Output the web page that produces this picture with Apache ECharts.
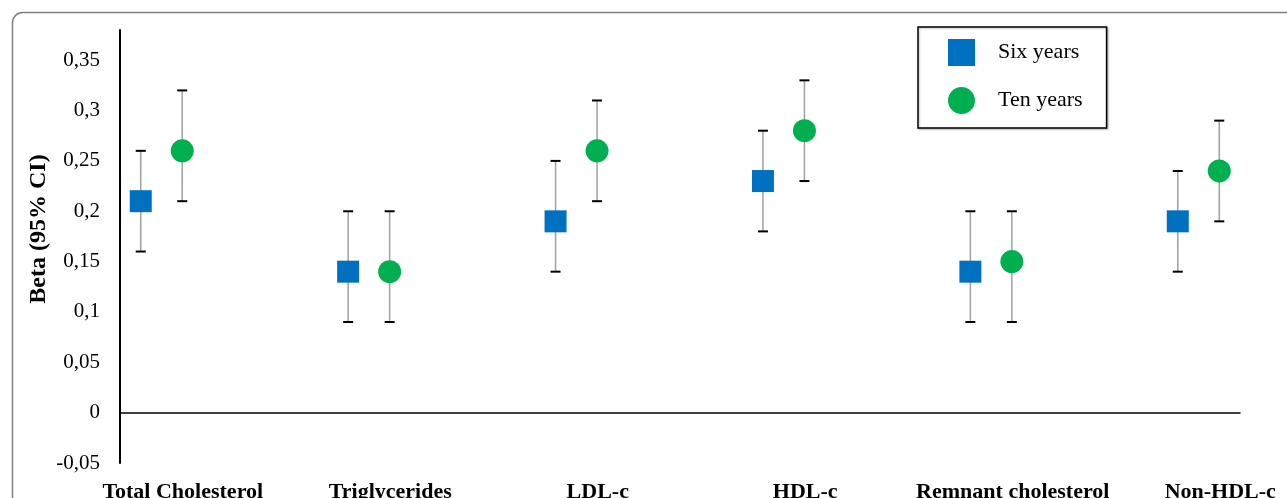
<!DOCTYPE html>
<html><head><meta charset="utf-8">
<script src="https://cdn.jsdelivr.net/npm/echarts@6/dist/echarts.min.js"></script>
<style>html,body{margin:0;padding:0;background:#fff}#c{width:1287px;height:498px}</style>
</head><body><div id="c"></div>
<script>
const categories = ['Total Cholesterol','Triglycerides','LDL-c','HDL-c','Remnant cholesterol','Non-HDL-c'];
const sixBeta  = [0.21, 0.14, 0.19, 0.23, 0.14, 0.19];
const sixLow   = [0.16, 0.09, 0.14, 0.18, 0.09, 0.14];
const sixHigh  = [0.26, 0.20, 0.25, 0.28, 0.20, 0.24];
const tenBeta  = [0.26, 0.14, 0.26, 0.28, 0.15, 0.24];
const tenLow   = [0.21, 0.09, 0.21, 0.23, 0.09, 0.19];
const tenHigh  = [0.32, 0.20, 0.31, 0.33, 0.20, 0.29];
const yTicks = ['-0,05','0','0,05','0,1','0,15','0,2','0,25','0,3','0,35'];

const FONT = 'Liberation Serif';
const OFF = 0.1;
const chart = echarts.init(document.getElementById('c'), null, {renderer:'canvas'});

function errData(low, high, off){ return low.map((l,i)=>[i+off, l, high[i]]); }
function errRender(params, api){
  const x = api.value(0);
  const lo = api.coord([x, api.value(1)]);
  const hi = api.coord([x, api.value(2)]);
  const cap = 5;
  return {type:'group', children:[
    {type:'line', shape:{x1:lo[0],y1:lo[1],x2:hi[0],y2:hi[1]}, style:{stroke:'#a0a0a0', lineWidth:1.5}},
    {type:'line', shape:{x1:hi[0]-cap,y1:hi[1],x2:hi[0]+cap,y2:hi[1]}, style:{stroke:'#000', lineWidth:2}},
    {type:'line', shape:{x1:lo[0]-cap,y1:lo[1],x2:lo[0]+cap,y2:lo[1]}, style:{stroke:'#000', lineWidth:2}}
  ]};
}

chart.setOption({
  animation:false,
  backgroundColor:'#fff',
  textStyle:{fontFamily:FONT},
  graphic:[
    {type:'rect', left:10, top:10, shape:{width:1400, height:600, r:10}, style:{fill:'none', stroke:'#7f7f7f', lineWidth:1.5}, silent:true, z:-1},
    {type:'text', x:39, y:229, rotation:Math.PI/2, style:{text:'Beta (95% CI)', font:'bold 24px "Liberation Serif"', fill:'#000', align:'center', verticalAlign:'middle'}}
  ],
  legend:{
    orient:'vertical', left:918, top:27,
    itemWidth:27, itemHeight:27, itemGap:21,
    padding:[12,24,14,30],
    borderColor:'#000', borderWidth:1.5,
    shadowColor:'rgba(0,0,0,0.25)', shadowBlur:2, shadowOffsetX:1, shadowOffsetY:1,
    backgroundColor:'#fff',
    textStyle:{fontFamily:FONT, fontSize:22, color:'#000', padding:[0,0,0,18]},
    data:[{name:'Six years', icon:'rect'},{name:'Ten years', icon:'circle'}]
  },
  grid:[
    {left:120, right:47, top:30, bottom:35, outerBoundsMode:'none', containLabel:false},
    {left:79, right:-37, top:30, bottom:35, outerBoundsMode:'none', containLabel:false}
  ],
  xAxis:[
    {type:'value', gridIndex:0, min:-0.2, max:5.2,
     axisLine:{onZero:true, lineStyle:{color:'#000', width:1.5}}, axisTick:{show:false}, axisLabel:{show:false}, splitLine:{show:false}},
    {type:'category', gridIndex:1, data:categories, position:'bottom',
     axisLine:{show:false}, axisTick:{show:false}, splitLine:{show:false},
     axisLabel:{margin:18, fontFamily:FONT, fontSize:22, fontWeight:'bold', color:'#000', interval:0}}
  ],
  yAxis:[
    {type:'value', gridIndex:0, min:-0.05, max:0.38, interval:0.05,
     axisLine:{show:true, onZero:false, lineStyle:{color:'#000', width:2}}, axisTick:{show:false}, splitLine:{show:false},
     axisLabel:{margin:20, fontFamily:FONT, fontSize:21, color:'#000',
       formatter:function(v){ const k=Math.round((v+0.05)/0.05); return Math.abs(v-(-0.05+k*0.05))<1e-6 && k<yTicks.length ? yTicks[k] : ''; }}},
    {type:'value', gridIndex:1, min:0, max:1, show:false}
  ],
  series:[
    {type:'custom', name:'err6', xAxisIndex:0, yAxisIndex:0, renderItem:errRender, data:errData(sixLow, sixHigh, -OFF), z:1, silent:true},
    {type:'custom', name:'err10', xAxisIndex:0, yAxisIndex:0, renderItem:errRender, data:errData(tenLow, tenHigh, OFF), z:1, silent:true},
    {type:'scatter', name:'Six years', xAxisIndex:0, yAxisIndex:0, symbol:'rect', symbolSize:22,
     itemStyle:{color:'#0070c0', opacity:1}, data:sixBeta.map((v,i)=>[i-OFF, v]), z:3},
    {type:'scatter', name:'Ten years', xAxisIndex:0, yAxisIndex:0, symbol:'circle', symbolSize:23,
     itemStyle:{color:'#00b050', opacity:1}, data:tenBeta.map((v,i)=>[i+OFF, v]), z:3}
  ]
});
</script></body></html>
